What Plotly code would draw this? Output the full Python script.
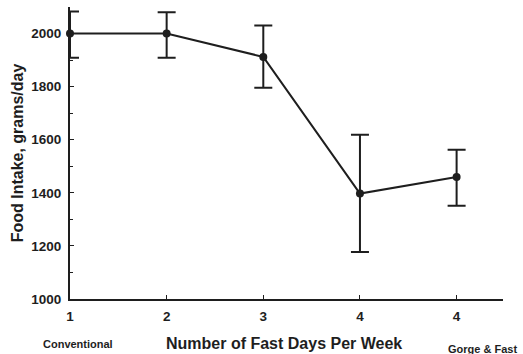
import plotly.graph_objects as go

x_pos = [1, 2, 3, 4, 5]
x_labels = ["1", "2", "3", "4", "4"]
intake = [2000, 2000, 1912, 1397, 1460]
err_plus = [83, 80, 118, 222, 102]
err_minus = [91, 91, 116, 220, 109]
y_ticks = [1000, 1200, 1400, 1600, 1800, 2000]

ink = "#1e1e1e"
fam = "Liberation Sans"
fig = go.Figure()
fig.add_trace(go.Scatter(
    x=x_pos, y=intake, mode="markers",
    marker=dict(size=1, color="rgba(0,0,0,0)"),
    error_y=dict(type="data", symmetric=False, array=err_plus, arrayminus=err_minus,
                 color=ink, thickness=2, width=9),
    cliponaxis=True, showlegend=False, hoverinfo="skip"))
fig.add_trace(go.Scatter(
    x=x_pos, y=intake, mode="lines+markers",
    line=dict(color=ink, width=2),
    marker=dict(size=8, color=ink),
    cliponaxis=False, showlegend=False))

fig.add_annotation(x=1, y=-0.125, xref="x", yref="paper", text="<b>Conventional</b>",
                   showarrow=False, font=dict(size=11, color=ink, family=fam),
                   yanchor="top", xshift=8)
fig.add_annotation(x=5, y=-0.145, xref="x", yref="paper", text="<b>Gorge & Fast</b>",
                   showarrow=False, font=dict(size=11, color=ink, family=fam),
                   yanchor="top", xshift=26)
fig.add_annotation(x=0.494, y=-0.118, xref="paper", yref="paper",
                   text="<b>Number of Fast Days Per Week</b>",
                   showarrow=False, font=dict(size=16, color=ink, family=fam), yanchor="top")

fig.update_layout(
    width=523, height=354,
    margin=dict(l=70, r=20, t=7, b=55),
    paper_bgcolor="white", plot_bgcolor="white",
    font=dict(family=fam, color=ink),
    xaxis=dict(range=[1, 5.48], tickvals=x_pos, ticktext=["<b>%s</b>" % t for t in x_labels],
               showgrid=False, zeroline=False, showline=True, linecolor=ink, linewidth=2,
               ticks="inside", ticklen=4, tickcolor=ink, tickfont=dict(size=13.5),
               ticklabelstandoff=4, automargin=False),
    yaxis=dict(range=[1000, 2100], tickvals=y_ticks, ticktext=["<b>%d</b>" % v for v in y_ticks],
               showgrid=False, zeroline=False, showline=True, linecolor=ink, linewidth=2,
               ticks="inside", ticklen=4, tickcolor=ink, tickfont=dict(size=13.5),
               ticklabelstandoff=4, automargin=False,
               minor=dict(tickvals=[1100, 1300, 1500, 1700, 1900], ticks="inside", ticklen=3, tickcolor=ink),
               title=dict(text="<b>Food Intake, grams/day</b>", font=dict(size=16), standoff=4)),
)
fig.write_html("out.html", config={"displayModeBar": False},
               post_script="document.body.style.margin='0';document.body.style.overflow='hidden';")
